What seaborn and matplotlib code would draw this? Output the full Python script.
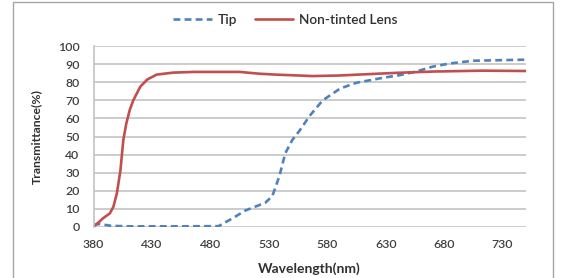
import matplotlib
matplotlib.use("Agg")
import matplotlib.pyplot as plt
import seaborn as sns
import pandas as pd
from matplotlib.patches import Rectangle
from matplotlib.lines import Line2D

# ---- data ----
tip_wl = [380, 385, 395, 410, 450, 487, 498, 510, 527, 533, 539, 544, 550, 556,
          565, 576, 591, 605, 628, 642, 656, 670, 685, 705, 728, 750]
tip_t = [1.0, 1.5, 0.5, 0.2, 0.2, 0.3, 4.3, 9.0, 13.3, 17.0, 28.0, 40.6, 48.0, 53.0,
         61.5, 70.0, 76.6, 79.8, 82.6, 84.0, 86.0, 88.7, 90.5, 92.0, 92.3, 92.6]

lens_wl = [380, 385, 388, 394, 397, 400, 403, 405.5, 408, 411, 414, 420, 426, 434,
           448, 466, 505, 522, 536, 556, 567, 590, 613, 640, 670, 713, 750]
lens_t = [0.0, 2.8, 4.6, 7.4, 11.0, 18.5, 31.0, 48.0, 57.0, 64.7, 70.0, 77.6, 81.6, 84.3,
          85.4, 85.8, 85.8, 84.8, 84.3, 83.8, 83.5, 83.8, 84.5, 85.3, 86.0, 86.5, 86.3]

series_names = ["Tip", "Non-tinted Lens"]
x_ticks = [380, 430, 480, 530, 580, 630, 680, 730]
y_ticks = list(range(0, 101, 10))
x_label = "Wavelength(nm)"
y_label = "Transmittance(%)"

df = pd.concat([
    pd.DataFrame({"wl": tip_wl, "t": tip_t, "series": series_names[0]}),
    pd.DataFrame({"wl": lens_wl, "t": lens_t, "series": series_names[1]}),
], ignore_index=True)

sns.set_style("white")
plt.rcParams["font.family"] = ["Lato", "DejaVu Sans"]

colors = {"Tip": "#4F81BD", "Non-tinted Lens": "#C0504D"}
dashes = {"Tip": (2.6, 1.6), "Non-tinted Lens": ""}

fig = plt.figure(figsize=(5.63, 2.78), dpi=100)
ax = fig.add_axes([93.5 / 563, 51.3 / 278, 432.5 / 563, 180.4 / 278])

sns.lineplot(data=df, x="wl", y="t", hue="series", style="series",
             palette=colors, dashes=dashes, linewidth=1.9, ax=ax,
             legend=False, sort=False, estimator=None)

ax.set_xlim(380, 750)
ax.set_ylim(0, 100)
ax.set_xticks(x_ticks)
ax.set_yticks(y_ticks)
ax.yaxis.grid(True, color="#BFBFBF", linewidth=1.1)
ax.set_axisbelow(True)
for s in ["top", "right", "bottom"]:
    ax.spines[s].set_visible(False)
ax.spines["left"].set_color("#BFBFBF")
ax.spines["left"].set_linewidth(1.1)
ax.tick_params(axis="y", length=0, pad=10, labelsize=8.8, labelcolor="#404040")
ax.tick_params(axis="x", length=0, pad=9, labelsize=8.8, labelcolor="#404040")
for lab in ax.get_xticklabels() + ax.get_yticklabels():
    lab.set_fontweight("semibold")

ax.set_xlabel(x_label, fontsize=10, fontweight="bold", color="#303030")
ax.set_ylabel(y_label, fontsize=8.8, fontweight="bold", color="#303030")
ax.xaxis.set_label_coords(0.5, -0.20)
ax.yaxis.set_label_coords(-0.119, 0.5)

handles = [Line2D([], [], color=colors["Tip"], linewidth=1.9, dashes=(2.6, 1.6)),
           Line2D([], [], color=colors["Non-tinted Lens"], linewidth=1.9)]
fig.legend(handles, series_names, loc="center", bbox_to_anchor=(285.5 / 563, 1 - 20 / 278),
           ncol=2, frameon=False, handlelength=2.8, columnspacing=1.3,
           handletextpad=0.45, labelcolor="#303030",
           prop={"weight": "semibold", "size": 9.8})

fig.patches.append(Rectangle((12.5 / 563, -0.1), (553 - 12.5) / 563, 1.1 - 2 / 278,
                             transform=fig.transFigure, fill=False,
                             edgecolor="#A6A6A6", linewidth=1.0))

fig.savefig("out.png", dpi=100)
